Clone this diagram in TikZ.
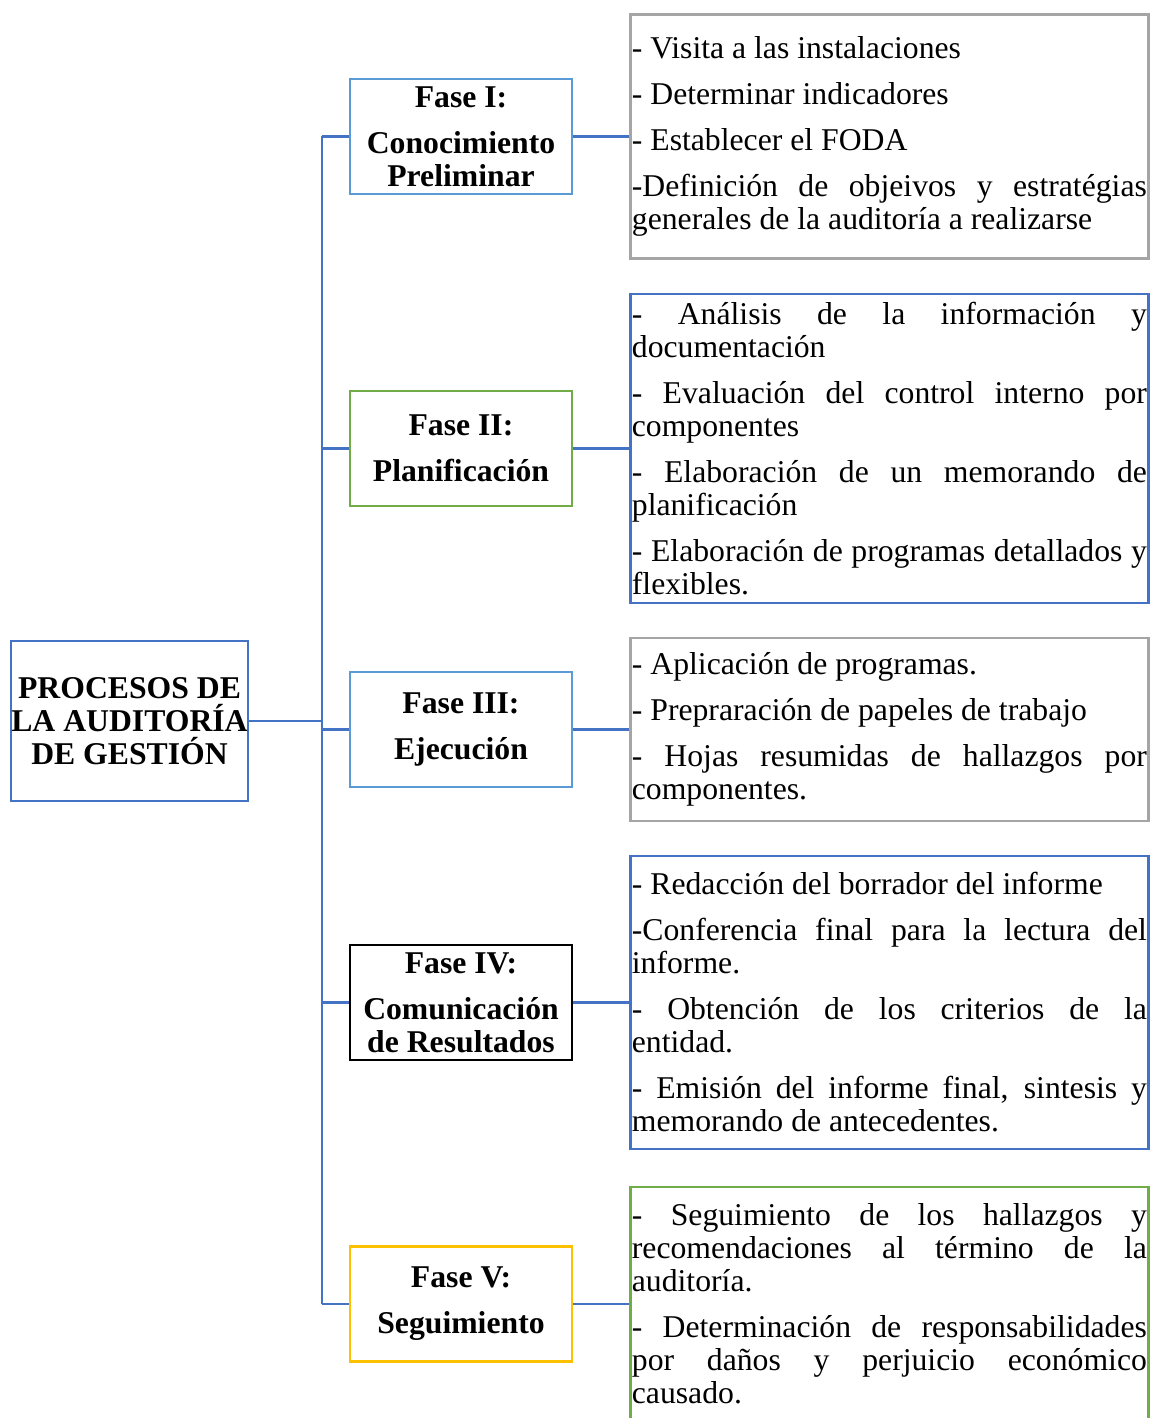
\documentclass[tikz,border=0pt]{standalone}
\usepackage{fontspec}
\setmainfont{Liberation Serif}
\usepackage{xcolor}
\definecolor{busblue}{RGB}{68,114,196}
\definecolor{faseblue}{RGB}{91,155,213}
\definecolor{fasegreen}{RGB}{112,173,71}
\definecolor{fasegold}{RGB}{255,192,0}
\definecolor{boxgray}{RGB}{165,165,165}
\usepackage{tikz}
\usetikzlibrary{positioning}

\tikzset{
  proceso/.style={draw=busblue, line width=2.4pt, minimum width=237pt, minimum height=160pt,
    inner sep=0pt, align=center, font={\fontsize{31.7}{33}\selectfont\bfseries}},
  fase/.style={draw, line width=2.4pt, minimum width=222pt, minimum height=115pt,
    inner sep=0pt, align=center, font={\fontsize{31.7}{33}\selectfont\bfseries}},
  detalle/.style={draw, line width=2.4pt, text width=515pt, inner xsep=1.5pt, inner ysep=0pt,
    align=justify, font={\fontsize{31.7}{33}\selectfont},
    execute at begin node={\setlength{\parskip}{13pt}\setlength{\parindent}{0pt}%
      \hyphenpenalty=10000\exhyphenpenalty=10000\tolerance=9999\emergencystretch=20pt}},
  enlace/.style={draw=busblue, line width=2.6pt}
}

\begin{document}
\begin{tikzpicture}[x=1pt, y=-1pt]
    \useasboundingbox (0,0) rectangle (1150,1418);
    \node[proceso] (proc) at (129.5,721) {PROCESOS DE\\LA AUDITORÍA\\DE GESTIÓN};

    \node[fase, draw=faseblue] (f1) at (461,136.5) {Fase I:\\[13pt]Conocimiento\\Preliminar};
    \node[fase, draw=fasegreen] (f2) at (461,448.5) {Fase II:\\[13pt]Planificación};
    \node[fase, draw=faseblue] (f3) at (461,729.5) {Fase III:\\[13pt]Ejecución};
    \node[fase, draw=black] (f4) at (461,1002.5) {Fase IV:\\[13pt]Comunicación\\de Resultados};
    \node[fase, draw=fasegold] (f5) at (461,1304) {Fase V:\\[13pt]Seguimiento};

    \node[detalle, draw=boxgray, minimum height=244pt, right=56pt of f1] (d1) {%
      - Visita a las instalaciones\par
      - Determinar indicadores\par
      - Establecer el FODA\par
      -Definición de objeivos y estratégias generales de la auditoría a realizarse};
    \node[detalle, draw=busblue, minimum height=309pt, right=56pt of f2] (d2) {%
      - Análisis de la información y documentación\par
      - Evaluación del control interno por componentes\par
      - Elaboración de un memorando de planificación\par
      - Elaboración de programas detallados y flexibles.};
    \node[detalle, draw=boxgray, minimum height=183pt, right=56pt of f3] (d3) {%
      - Aplicación de programas.\par
      - Prepraración de papeles de trabajo\par
      - Hojas resumidas de hallazgos por componentes.};
    \node[detalle, draw=busblue, minimum height=293pt, right=56pt of f4] (d4) {%
      - Redacción del borrador del informe\par
      -Conferencia final para la lectura del informe.\par
      - Obtención de los criterios de la\linebreak entidad.\par
      - Emisión del informe final, sintesis y memorando de antecedentes.};
    \node[detalle, draw=fasegreen, minimum height=234pt, right=56pt of f5] (d5) {%
      - Seguimiento de los hallazgos y recomendaciones al término de la auditoría.\par
      - Determinación de responsabilidades por daños y perjuicio económico causado.};

    \coordinate (bus) at (322,0);
    \draw[enlace] (bus |- f1.west) -- (bus |- f5.west);
    \draw[enlace] (proc.east) -- (bus |- proc.east);
    \foreach \i in {1,...,5} {
      \draw[enlace] (f\i.west) -- (bus |- f\i.west);
      \draw[enlace] (f\i.east) -- (d\i.west);
    }
  \end{tikzpicture}
\end{document}
